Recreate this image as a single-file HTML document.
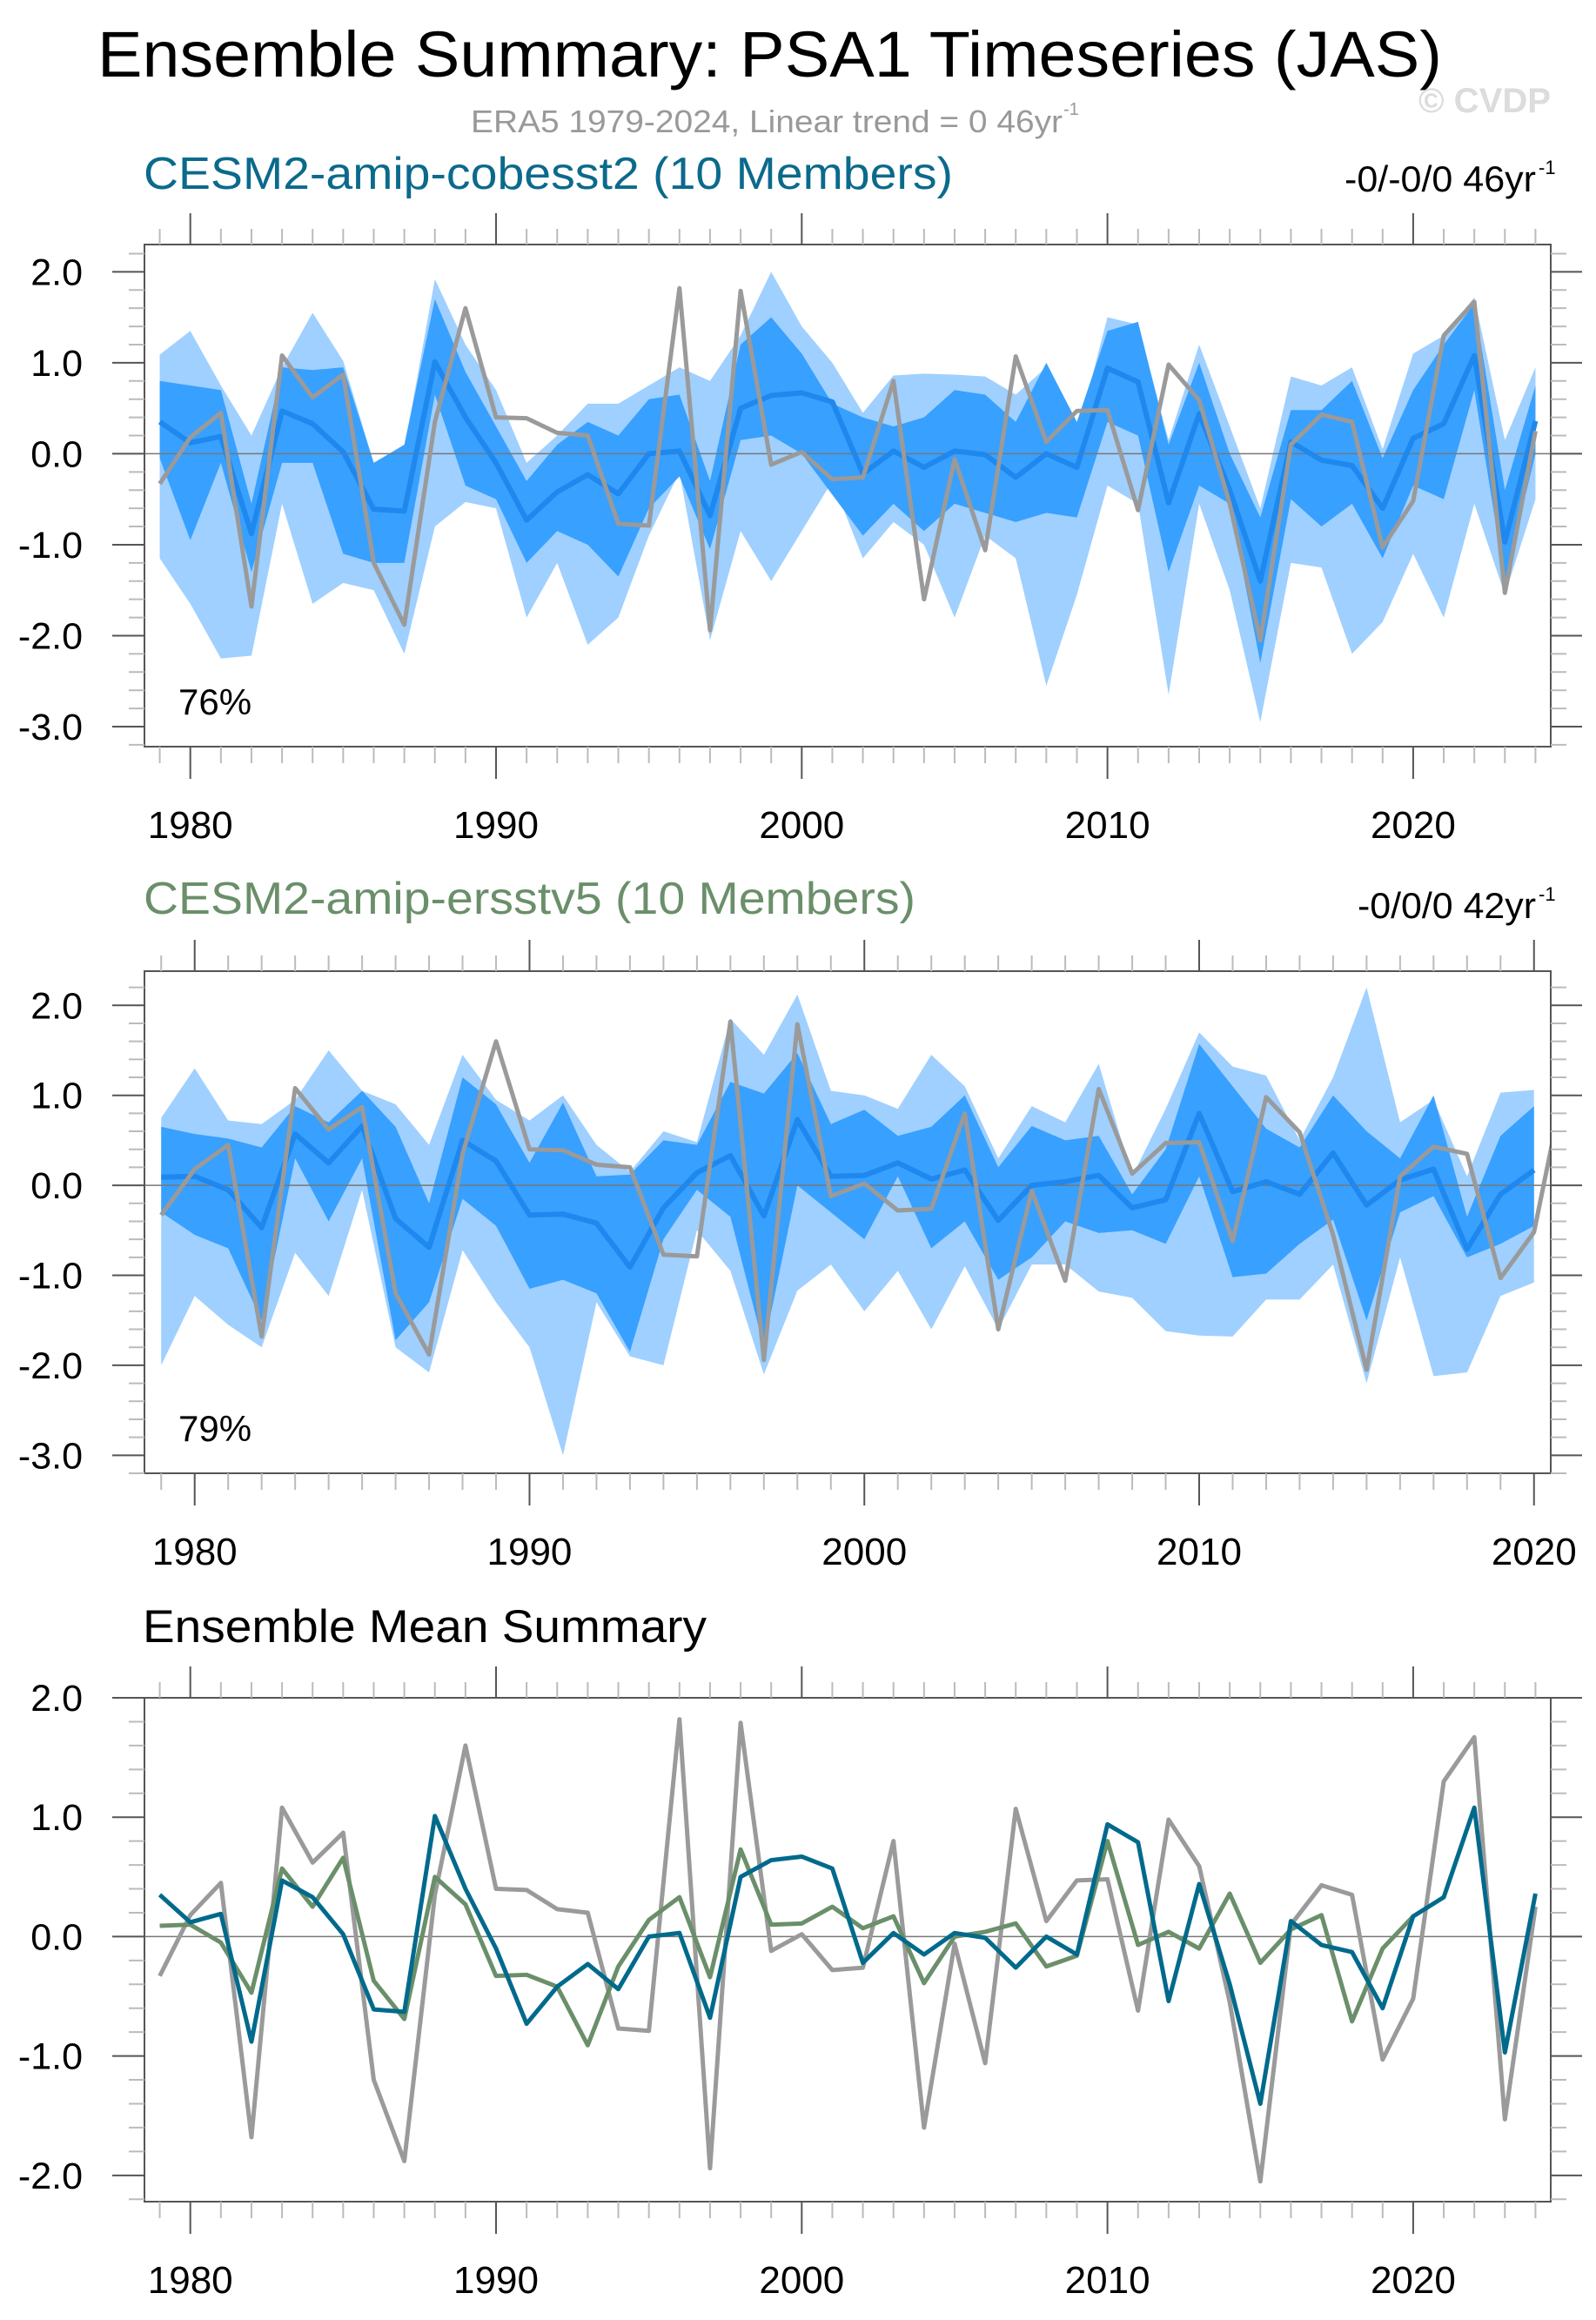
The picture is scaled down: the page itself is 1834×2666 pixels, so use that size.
<!DOCTYPE html>
<html><head><meta charset="utf-8"><style>
html,body{margin:0;padding:0;background:#fff}
svg{display:block}
text{font-family:"Liberation Sans",sans-serif}
</style></head><body>
<svg id="fig" width="1834" height="2666" viewBox="0 0 1834 2666" xmlns="http://www.w3.org/2000/svg">
<text x="112" y="88" font-size="74" textLength="1545" lengthAdjust="spacingAndGlyphs">Ensemble Summary: PSA1 Timeseries (JAS)</text>
<text x="541" y="152" font-size="36" fill="#999" textLength="680" lengthAdjust="spacingAndGlyphs">ERA5 1979-2024, Linear trend = 0 46yr</text>
<text x="1222" y="132" font-size="20" fill="#999">-1</text>
<text x="1630" y="129" font-size="40" font-weight="bold" fill="#dcdcdc" textLength="152" lengthAdjust="spacingAndGlyphs">© CVDP</text>
<text x="165" y="217" font-size="52" fill="#0b6a8c" textLength="930" lengthAdjust="spacingAndGlyphs">CESM2-amip-cobesst2 (10 Members)</text>
<text x="1545" y="220" font-size="42" textLength="220" lengthAdjust="spacingAndGlyphs">-0/-0/0 46yr</text>
<text x="1768" y="200" font-size="22">-1</text>
<text x="165" y="1050" font-size="52" fill="#6a8f6a" textLength="887" lengthAdjust="spacingAndGlyphs">CESM2-amip-ersstv5 (10 Members)</text>
<text x="1560" y="1055" font-size="42" textLength="205" lengthAdjust="spacingAndGlyphs">-0/0/0 42yr</text>
<text x="1768" y="1035" font-size="22">-1</text>
<text x="164" y="1887" font-size="53" textLength="648" lengthAdjust="spacingAndGlyphs">Ensemble Mean Summary</text>
<g id="p1"></g><g id="p2"></g><g id="p3"></g>
</svg>
<script>
const yearsA = Array.from({length:46},(_,i)=>1979+i);
const yearsB = Array.from({length:42},(_,i)=>1979+i);
const obs = [-0.33,0.18,0.45,-1.68,1.08,0.62,0.87,-1.2,-1.88,0.35,1.6,0.4,0.39,0.23,0.2,-0.77,-0.79,1.82,-1.94,1.79,-0.12,0.02,-0.28,-0.26,0.8,-1.6,-0.06,-1.06,1.07,0.13,0.47,0.48,-0.62,0.98,0.59,-0.55,-2.05,0.1,0.43,0.35,-1.03,-0.52,1.3,1.67,-1.53,0.25];
const meanA = [0.35,0.12,0.19,-0.88,0.47,0.33,0.02,-0.61,-0.63,1.01,0.4,-0.1,-0.73,-0.42,-0.23,-0.44,0.0,0.03,-0.68,0.5,0.64,0.67,0.57,-0.22,0.03,-0.15,0.03,-0.01,-0.26,0.0,-0.15,0.94,0.79,-0.54,0.44,-0.4,-1.4,0.13,-0.07,-0.13,-0.6,0.17,0.33,1.08,-0.97,0.36];
const maxA = [1.09,1.35,0.75,0.2,0.95,1.55,1.02,-0.1,0.05,1.92,1.2,0.7,-0.1,0.2,0.55,0.55,0.75,0.95,0.8,1.3,2.0,1.4,1.0,0.45,0.86,0.88,0.87,0.85,0.65,0.95,0.2,1.5,1.42,0.15,1.2,0.3,-0.6,0.85,0.75,0.95,0.05,1.1,1.3,1.72,0.15,0.95];
const minA = [-1.15,-1.65,-2.25,-2.22,-0.55,-1.65,-1.42,-1.5,-2.2,-0.8,-0.53,-0.6,-1.8,-1.2,-2.1,-1.8,-0.9,-0.2,-2.05,-0.85,-1.4,-0.85,-0.3,-1.15,-0.75,-1.0,-1.8,-0.9,-1.15,-2.55,-1.55,-0.35,-0.55,-2.65,-0.55,-1.5,-2.95,-1.2,-1.25,-2.2,-1.85,-1.1,-1.8,-0.55,-1.55,-0.5];
const hiA = [0.8,0.75,0.7,-0.55,0.95,0.92,0.95,-0.1,0.1,1.7,0.9,0.3,-0.3,0.1,0.35,0.2,0.6,0.65,-0.3,1.2,1.5,1.1,0.55,0.4,0.3,0.4,0.7,0.65,0.35,1.0,0.35,1.35,1.45,0.1,1.0,0.0,-0.7,0.48,0.48,0.8,-0.05,0.7,1.2,1.65,-0.4,0.75];
const loA = [-0.05,-0.95,-0.1,-1.3,-0.1,-0.1,-1.1,-1.2,-1.2,0.65,-0.35,-0.5,-1.2,-0.85,-1.0,-1.35,-0.6,-0.25,-1.05,0.15,0.2,0.0,-0.45,-0.9,-0.55,-0.85,-0.55,-0.65,-0.75,-0.65,-0.7,0.35,0.2,-1.3,-0.35,-0.55,-2.3,-0.5,-0.8,-0.55,-1.15,-0.35,-0.5,0.7,-1.4,0.0];
const meanB = [0.09,0.1,-0.05,-0.47,0.57,0.25,0.66,-0.37,-0.69,0.5,0.27,-0.33,-0.32,-0.42,-0.91,-0.25,0.14,0.33,-0.34,0.73,0.1,0.11,0.25,0.07,0.17,-0.39,0.0,0.04,0.11,-0.25,-0.16,0.8,-0.07,0.04,-0.1,0.36,-0.22,0.06,0.18,-0.71,-0.1,0.17];
const maxB = [0.75,1.3,0.72,0.68,0.95,1.5,1.05,0.9,0.45,1.45,0.95,0.72,1.0,0.45,0.15,0.6,0.48,1.85,1.45,2.12,1.05,1.0,0.85,1.45,1.1,0.3,0.88,0.7,1.35,0.1,0.85,1.7,1.32,1.22,0.5,1.2,2.2,0.7,0.95,0.1,1.03,1.06];
const minB = [-2.0,-1.23,-1.55,-1.8,-0.75,-1.23,-0.05,-1.8,-2.08,-0.72,-1.3,-1.8,-3.0,-1.3,-1.9,-2.0,-0.5,-0.95,-2.1,-1.17,-0.88,-1.4,-0.95,-1.6,-0.9,-1.6,-0.88,-0.88,-1.18,-1.25,-1.62,-1.67,-1.68,-1.27,-1.27,-0.88,-2.2,-0.8,-2.12,-2.08,-1.23,-1.08];
const hiB = [0.65,0.57,0.52,0.42,0.88,0.7,1.05,0.65,-0.2,1.2,0.9,0.25,0.92,0.1,0.12,0.5,0.45,1.15,1.02,1.47,0.68,0.84,0.55,0.65,1.0,0.2,0.66,0.5,0.55,-0.1,0.4,1.57,1.1,0.63,0.42,1.0,0.6,0.3,1.0,-0.35,0.55,0.88];
const loB = [-0.3,-0.55,-0.7,-1.5,0.3,-0.4,0.3,-1.72,-1.3,-0.15,-0.45,-1.15,-1.05,-1.2,-1.85,-0.6,-0.05,-0.35,-1.8,0.0,-0.3,-0.6,0.1,-0.7,-0.4,-1.05,-0.8,-0.4,-0.53,-0.5,-0.65,0.1,-1.02,-0.98,-0.65,-0.38,-1.5,-0.3,-0.12,-0.8,-0.65,-0.45];
const yTicks12 = [2,1,0,-1,-2,-3];
const yTicks3 = [2,1,0,-1,-2];
const xTickLabels = [1980,1990,2000,2010,2020];

const NS='http://www.w3.org/2000/svg';
function mk(parent,tag,attrs){const e=document.createElementNS(NS,tag);for(const k in attrs)e.setAttribute(k,attrs[k]);parent.appendChild(e);return e;}

function panel(g,cfg){
  const L=166,R=1782,T=cfg.top,B=cfg.bottom;
  const sx=y=>L+(y-cfg.x0)/(cfg.x1-cfg.x0)*(R-L);
  const sy=v=>T+(cfg.y1-v)/(cfg.y1-cfg.y0)*(B-T);
  const clipId='clip'+cfg.id;
  const defs=mk(g,'defs',{});
  const cp=mk(defs,'clipPath',{id:clipId});
  mk(cp,'rect',{x:L,y:T,width:R-L,height:B-T});
  const plot=mk(g,'g',{'clip-path':'url(#'+clipId+')'});
  
  
  function band(xs,up,lo,fill,name){
    let d='M'+xs.map((x,i)=>sx(x)+','+sy(up[i])).join('L');
    for(let i=xs.length-1;i>=0;i--)d+='L'+sx(xs[i])+','+sy(lo[i]);
    const p=mk(plot,'path',{d:d+'Z',fill:fill});
    
    
  }
  function line(xs,vals,color,w,name){
    const p=mk(plot,'polyline',{points:xs.map((x,i)=>sx(x)+','+sy(vals[i])).join(' '),fill:'none',stroke:color,'stroke-width':w,'stroke-linejoin':'round'});
    
    
  }
  if(cfg.bands){
    band(cfg.xs,cfg.max,cfg.min,'#9fd0ff','minmax-band');
    band(cfg.xs,cfg.hi,cfg.lo,'#38a0ff','inner-band');
  }
  const z=mk(plot,'line',{x1:L,x2:R,y1:sy(0),y2:sy(0),stroke:'#777','stroke-width':1.5});
  
  
  cfg.lines.forEach(l=>line(l.xs,l.v,l.c,l.w,l.n));
  // frame
  const fr=mk(g,'rect',{x:L,y:T,width:R-L,height:B-T,fill:'none',stroke:'#555','stroke-width':2});
  
  
  // x ticks
  for(let yr=1979;yr<=cfg.x1;yr++){
    const x=sx(yr),maj=yr%10===0;
    mk(g,'line',{x1:x,x2:x,y1:T,y2:T-(maj?36:18),stroke:maj?'#555':'#bbb','stroke-width':2});
    mk(g,'line',{x1:x,x2:x,y1:B,y2:B+(maj?37:19),stroke:maj?'#555':'#bbb','stroke-width':2});
  }
  xTickLabels.forEach(yr=>{
    if(yr>cfg.x1)return;
    const t=mk(g,'text',{x:sx(yr),y:B+105,'font-size':44,'text-anchor':'middle'});
    t.textContent=yr;
    
    
  });
  // y ticks
  for(let k=Math.ceil(cfg.y0*5);k<=Math.floor(cfg.y1*5);k++){
    const v=k/5,y=sy(v),maj=k%5===0;
    mk(g,'line',{x1:L,x2:L-(maj?37:18),y1:y,y2:y,stroke:maj?'#555':'#bbb','stroke-width':2});
    mk(g,'line',{x1:R,x2:R+(maj?36:18),y1:y,y2:y,stroke:maj?'#555':'#bbb','stroke-width':2});
  }
  cfg.yt.forEach(v=>{
    const t=mk(g,'text',{x:95,y:sy(v)+15,'font-size':43,'text-anchor':'end'});
    t.textContent=v.toFixed(1);
    
    
  });
  if(cfg.pct){
    const t=mk(g,'text',{x:205,y:cfg.pctY,'font-size':42});
    t.textContent=cfg.pct;
    
    
  }
}
const obsColor='#9a9a9a';
panel(document.getElementById('p1'),{id:'p1',top:281,bottom:858,x0:1978.5,x1:2024.5,y0:-3.22,y1:2.3,yt:yTicks12,
  bands:true,xs:yearsA,max:maxA,min:minA,hi:hiA,lo:loA,pct:'76%',pctY:821,
  lines:[{xs:yearsA,v:meanA,c:'#1e88ee',w:6,n:'cobesst2-ensemble-mean'},{xs:yearsA,v:obs,c:obsColor,w:5,n:'era5-observed'}]});
panel(document.getElementById('p2'),{id:'p2',top:1116,bottom:1693,x0:1978.5,x1:2020.5,y0:-3.2,y1:2.38,yt:yTicks12,
  bands:true,xs:yearsB,max:maxB,min:minB,hi:hiB,lo:loB,pct:'79%',pctY:1656,
  lines:[{xs:yearsB,v:meanB,c:'#1e88ee',w:6,n:'ersstv5-ensemble-mean'},{xs:yearsA,v:obs,c:obsColor,w:5,n:'era5-observed'}]});
panel(document.getElementById('p3'),{id:'p3',top:1951,bottom:2530,x0:1978.5,x1:2024.5,y0:-2.22,y1:2.0,yt:yTicks3,
  bands:false,
  lines:[{xs:yearsA,v:obs,c:obsColor,w:5,n:'era5-observed'},{xs:yearsB,v:meanB,c:'#6a8f6a',w:5,n:'ersstv5-mean'},{xs:yearsA,v:meanA,c:'#006a8c',w:5,n:'cobesst2-mean'}]});
</script>
</body></html>
